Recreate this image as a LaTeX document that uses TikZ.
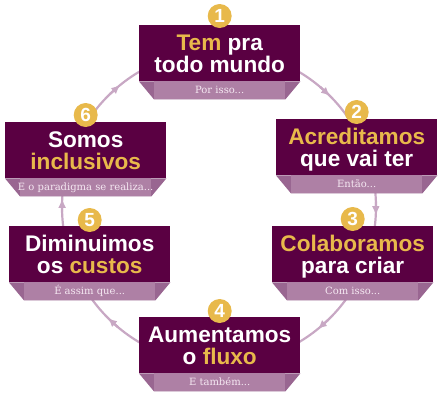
\documentclass[tikz,border=0pt]{standalone}
\usepackage{fontspec}
\newfontfamily\hfont{Liberation Sans}
\newfontfamily\subfont{DejaVu Serif}
\usetikzlibrary{calc,arrows.meta}
\definecolor{plum}{RGB}{90,0,66}
\definecolor{gold}{RGB}{232,185,75}
\definecolor{traplight}{RGB}{174,128,165}
\definecolor{trapside}{RGB}{153,102,145}
\definecolor{ringcol}{RGB}{200,168,196}
\definecolor{subtxt}{RGB}{245,232,242}
\newcommand\gd[1]{\textcolor{gold}{#1}}
\tikzset{
  mainbox/.style={minimum width=161pt,minimum height=56pt,inner sep=0pt,fill=plum,anchor=north west},
  headtxt/.style={anchor=base,inner sep=0pt,text=white,font=\hfont\bfseries\fontsize{22.6}{22}\selectfont},
  subtitle/.style={anchor=base,inner sep=0pt,text=subtxt,font=\subfont\fontsize{10}{12}\selectfont},
  badge/.style={circle,fill=gold,minimum size=24pt,inner sep=0pt,text=white,font=\hfont\bfseries\fontsize{19}{19}\selectfont},
  ring/.style={draw=ringcol,line width=2.2pt},
  ringarrow/.style={draw=ringcol,line width=2.2pt,-{Latex[length=9pt,width=8pt]}}
}
\newcommand\mybox[8]{%
  \node[mainbox] (#1) at (#2,#3) {};
  \fill[trapside] (#1.south west) -- (#1.south east) -- ([xshift=-15pt,yshift=-18pt]#1.south east) -- ([xshift=15pt,yshift=-18pt]#1.south west) -- cycle;
  \fill[traplight] ([xshift=15pt]#1.south west) rectangle ([xshift=-15pt,yshift=-18pt]#1.south east);
  \node[headtxt] (#1a) at ($(#1.north)+(0,25.5)$) {#5};
  \node[headtxt] (#1b) at ($(#1.north)+(0,47)$) {#6};
  \node[subtitle] (#1s) at ($(#1.north)+(0,68.5)$) {#7};
  \node[badge] (#1n) at ($(#1.north)+(0,-#8)$) {#4};
}
\begin{document}
\begin{tikzpicture}[x=1pt,y=-1pt]
\useasboundingbox (0,0) rectangle (440,400);
\coordinate (cyc) at (219,207);
\draw[ring] (cyc) circle[radius=157pt];
\foreach \a in {3,51,135,183,231,315}{
  \draw[ringarrow] ($(cyc)+({157*cos(\a-5)},{157*sin(\a-5)})$) -- ($(cyc)+({157*cos(\a)},{157*sin(\a)})$);
}
\mybox{b1}{139}{25}{1}{\gd{Tem} pra}{todo mundo}{Por isso...}{9}
\mybox{b2}{276}{119}{2}{\gd{Acreditamos}}{que vai ter}{Então...}{7}
\mybox{b3}{272}{226}{3}{\gd{Colaboramos}}{para criar}{Com isso...}{7}
\mybox{b4}{139}{317}{4}{Aumentamos}{o \gd{fluxo}}{E também...}{6}
\mybox{b5}{9}{226}{5}{Diminuimos}{os \gd{custos}}{É assim que...}{6}
\mybox{b6}{5}{122}{6}{Somos}{\gd{inclusivos}}{E o paradigma se realiza...}{7}
\end{tikzpicture}
\end{document}
